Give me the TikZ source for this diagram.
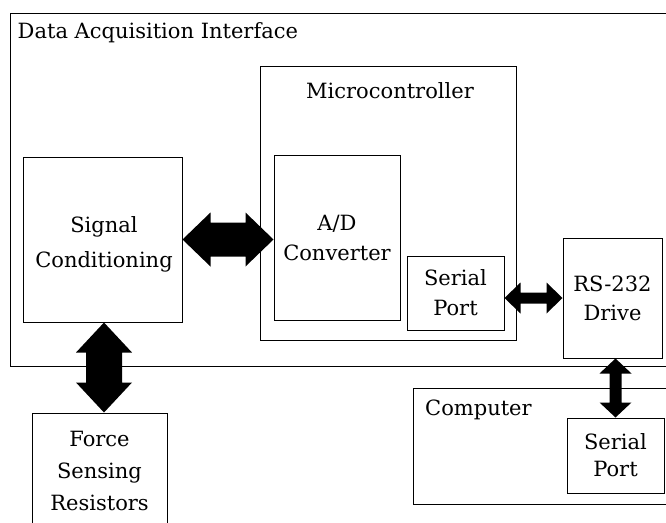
\documentclass[tikz,border=0pt]{standalone}
\usepackage{fontspec}
\setmainfont{DejaVu Serif}
\usetikzlibrary{calc}

% Solid double-headed block arrow between two points:
% #1 start, #2 end, #3 shaft half-width, #4 head half-width, #5 head length
\newcommand\blockarrow[5]{%
  \fill let \p1=(#1), \p2=(#2),
            \n1={atan2(\y2-\y1,\x2-\x1)},
            \n2={veclen(\x2-\x1,\y2-\y1)} in
    [shift={(\p1)}, rotate=\n1]
    (0,0) -- (#5,#4) -- (#5,#3) -- (\n2-#5,#3) -- (\n2-#5,#4) -- (\n2,0)
    -- (\n2-#5,-#4) -- (\n2-#5,-#3) -- (#5,-#3) -- (#5,-#4) -- cycle;}

\tikzset{
  blk/.style={draw, line width=1pt, inner sep=0pt, align=center,
              font=\fontsize{21}{30}\selectfont},
  lbl/.style={inner sep=0pt, font=\fontsize{21}{30}\selectfont}
}

\begin{document}
\begin{tikzpicture}[x=1pt, y=-1pt]
  \clip (0,0) rectangle (666,522);
  \fill[white] (0,0) rectangle (666,522);

  % enclosing interface board
  \node[blk, minimum width=680pt, minimum height=353pt] (dai) at (350,189.5) {};
  \node[lbl, anchor=base west] (daititle) at (17.5,38) {Data Acquisition Interface};

  % microcontroller and its parts
  \node[blk, minimum width=256pt, minimum height=274pt] (micro) at (388,203) {};
  \node[lbl, anchor=base] (microtitle) at (390,98) {Microcontroller};
  \node[blk, minimum width=126pt, minimum height=165pt] (ad) at (337,237.5) {A/D\\Converter};
  \node[blk, minimum width=97pt, minimum height=74pt] (sp1) at (455.5,293) {Serial\\Port};

  % signal conditioning
  \node[blk, minimum width=159pt, minimum height=165pt] (sc) at (102.5,239.5) {};
  \node[lbl, align=center, font=\fontsize{21}{35}\selectfont] (sctext) at (104,244.5) {Signal\\Conditioning};

  % RS-232 driver
  \node[blk, minimum width=99pt, minimum height=120pt, font=\fontsize{21}{29}\selectfont] (rs) at (612.5,298) {RS-232\\Drive};

  % host computer
  \node[blk, minimum width=277pt, minimum height=116pt] (comp) at (551.5,446) {};
  \node[lbl, anchor=base west] (comptitle) at (425,415) {Computer};
  \node[blk, minimum width=97pt, minimum height=75pt, font=\fontsize{21}{27}\selectfont] (sp2) at (615.5,455.5) {Serial\\Port};

  % sensors
  \node[blk, minimum width=135pt, minimum height=116pt, font=\fontsize{21}{32}\selectfont] (fsr) at (99.5,471) {Force\\Sensing\\Resistors};

  % data paths
  \blockarrow{sc.east}{sc.east -| ad.west}{17}{27}{28}
  \blockarrow{sp1.east |- rs.west}{rs.west}{5.5}{15.5}{16}
  \blockarrow{sp2.north |- rs.south}{sp2.north}{6}{16}{15}
  \blockarrow{sc.south -| sctext.center}{fsr.north -| sctext.center}{18}{28}{30}
\end{tikzpicture}
\end{document}
